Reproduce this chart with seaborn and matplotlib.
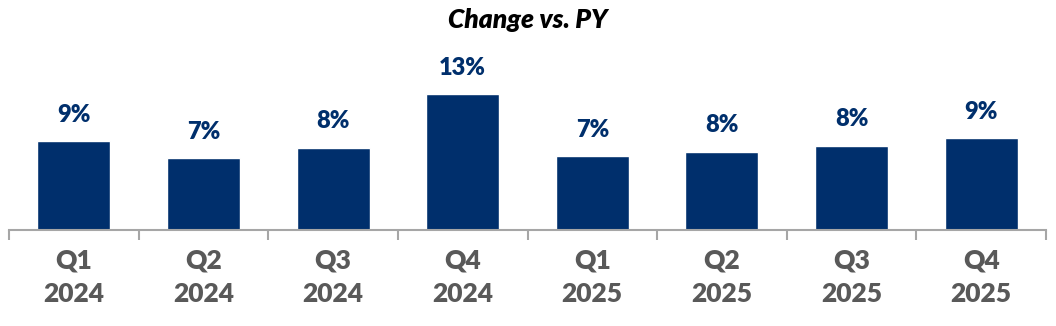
import matplotlib
matplotlib.use("Agg")
import matplotlib.pyplot as plt
import seaborn as sns
import pandas as pd
import numpy as np

# Year-over-year change by quarter (percent)
quarters = ["Q1", "Q2", "Q3", "Q4", "Q1", "Q2", "Q3", "Q4"]
years = ["2024", "2024", "2024", "2024", "2025", "2025", "2025", "2025"]
change_pct = [8.6, 7.0, 8.0, 13.2, 7.2, 7.6, 8.2, 8.9]

labels = [f"{q}\n{y}" for q, y in zip(quarters, years)]
df = pd.DataFrame({"period": labels, "change": change_pct})

sns.set_theme(style="white")
plt.rcParams["font.family"] = ["Lato", "DejaVu Sans"]

BAR = "#002F6C"
AXIS = "#A6A6A6"
TICKTXT = "#595959"

W, H = 1056, 326
fig = plt.figure(figsize=(W / 100, H / 100), dpi=100)
ax = fig.add_axes([9 / W, (H - 230) / H, 1037 / W, 154.5 / H])

sns.barplot(data=df, x="period", y="change", color=BAR, saturation=1,
            width=0.563, ax=ax)

ax.set_ylim(0, 15)
ax.set_xlim(-0.5, len(labels) - 0.5)

# value labels above each bar
for i, v in enumerate(change_pct):
    ax.annotate(f"{v:.0f}%", xy=(i, v), xytext=(0, 11),
                textcoords="offset points", ha="center", va="bottom",
                fontsize=17, fontweight="heavy", color=BAR)

# axis styling: only a bottom baseline with boundary ticks
for s in ["top", "right", "left"]:
    ax.spines[s].set_visible(False)
ax.spines["bottom"].set_color(AXIS)
ax.spines["bottom"].set_linewidth(1.5)
ax.set_yticks([])
ax.set_xlabel("")
ax.set_ylabel("")

ax.set_xticks(np.arange(-0.5, len(labels)), minor=True)
ax.tick_params(axis="x", which="minor", length=7.5, width=1.5, color=AXIS,
               bottom=True)
ax.tick_params(axis="x", which="major", length=0, pad=13)
for t in ax.get_xticklabels():
    t.set_fontsize(19)
    t.set_fontweight("heavy")
    t.set_color(TICKTXT)
    t.set_linespacing(1.5)

fig.text(0.5, 1 - 20 / H, "Change vs. PY", ha="center", va="center",
         fontsize=19, fontweight="heavy", fontstyle="italic", color="black")

fig.savefig("out.png", dpi=100)
